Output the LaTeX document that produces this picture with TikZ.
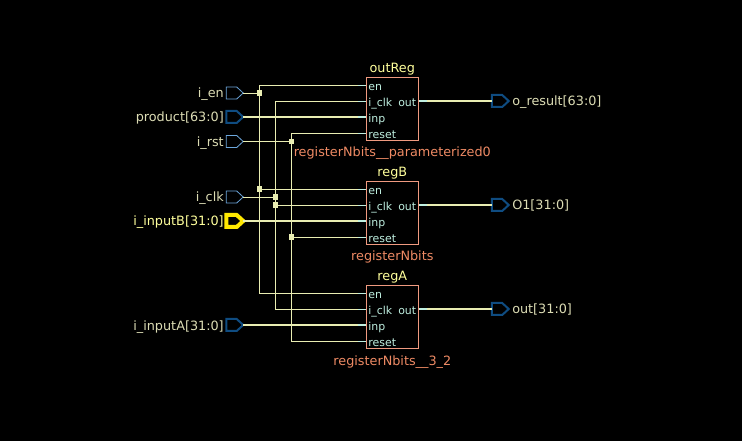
\documentclass[tikz,border=0pt]{standalone}
\usepackage{fontspec}
\usepackage{xcolor}
\usepackage{tikz}
\setmainfont{DejaVu Sans}
\usetikzlibrary{arrows.meta,positioning,calc,shapes.symbols}
\definecolor{wirecol}{HTML}{E9EDB2}
\definecolor{pincol}{HTML}{BFEFE0}
\definecolor{boxcol}{HTML}{F09A80}
\definecolor{portblue}{HTML}{6CA6DC}
\definecolor{busblue}{HTML}{0F4C81}
\definecolor{hilite}{HTML}{FFE800}
\definecolor{porttext}{HTML}{DCDCB4}
\definecolor{insttext}{HTML}{FFFF9C}
\definecolor{reftext}{HTML}{EE8A64}
\tikzset{
    every picture/.style={line cap=butt,line join=miter},
    port/.style={signal,signal to=east,signal pointer angle=85,draw=portblue,line width=0.6pt,
      minimum width=12.7pt,minimum height=9pt,inner sep=0pt,outer sep=0pt},
    busport/.style={port,draw=busblue,line width=1.5pt},
    hiport/.style={port,draw=hilite,line width=3pt},
    portlabel/.style={text=porttext,font=\fontsize{9.6}{11}\selectfont,inner sep=0pt,anchor=base east},
    outlabel/.style={text=porttext,font=\fontsize{9.6}{11}\selectfont,inner sep=0pt,anchor=base west},
    regbox/.style={draw=boxcol,line width=0.6pt,minimum width=39.4pt,minimum height=47.6pt,inner sep=0pt},
    pinlabel/.style={text=pincol,font=\fontsize{8.2}{10}\selectfont,inner sep=0pt,anchor=base west},
    outpin/.style={text=pincol,font=\fontsize{8.2}{10}\selectfont,inner sep=0pt,anchor=base east},
    instlabel/.style={text=insttext,font=\fontsize{9.6}{11}\selectfont,inner sep=0pt,anchor=base},
    reflabel/.style={text=reftext,font=\fontsize{9.6}{11}\selectfont,inner sep=0pt,anchor=base},
    wire/.style={draw=wirecol,line width=0.6pt},
    buswire/.style={draw=wirecol,line width=1.5pt},
    joint/.style={fill=wirecol,draw=none,minimum size=3.8pt,inner sep=0pt,outer sep=0pt}
}
\begin{document}
\begin{tikzpicture}[x=0.75pt,y=-0.75pt]
  \useasboundingbox[fill=black] (0,0) rectangle (742,441);
  % registers
  \foreach \r/\yc/\t/\rf/\yt/\yb in {outReg/109/outReg/registerNbits\_\_parameterized0/73/157,regB/213/regB/registerNbits/177/261,regA/317/regA/registerNbits\_\_3\_2/281/365}{
    \node[regbox] (\r) at (392.3,\yc){};
    \node[instlabel] (\r-name) at (392.3,\yt){\t};
    \node[reflabel] (\r-ref) at (392.3,\yb){\rf};
    \foreach \p/\dy in {en/-24,clk/-8,inp/8,rst/24}{\coordinate (\r-\p) at ($(\r.west)+(0,\dy)$);}
    \coordinate (\r-out) at ($(\r.east)+(0,-8)$);
    \node[pinlabel] (\r-lben) at ($(\r.west)+(2.5,-18.5)$){en};
    \node[pinlabel] (\r-lbclk) at ($(\r.west)+(2.5,-2.5)$){i\_clk};
    \node[pinlabel] (\r-lbinp) at ($(\r.west)+(2.5,13.5)$){inp};
    \node[pinlabel] (\r-lbrst) at ($(\r.west)+(2.5,29.5)$){reset};
    \node[outpin] (\r-lbout) at ($(\r.east)+(-2.5,-2.5)$){out};
  }
  % ports
  \node[port] (pen) at (231.5,93){};
  \node[busport] (pprod) at (231.5,117){};
  \node[port] (prst) at (231.5,141.5){};
  \node[port] (pclk) at (231.5,197){};
  \node[hiport] (pb) at (231.5,221){};
  \node[busport] (pa) at (231.5,325){};
  \node[busport] (pres) at (497,101){};
  \node[busport] (po1) at (497,205){};
  \node[busport] (pout) at (497,309){};
  \node[portlabel] (len) at (224,98){i\_en};
  \node[portlabel] (lprod) at (224,122){product[63:0]};
  \node[portlabel] (lrst) at (224,146.5){i\_rst};
  \node[portlabel] (lclk) at (224,202){i\_clk};
  \node[portlabel,text=insttext] (lb) at (224,226){i\_inputB[31:0]};
  \node[portlabel] (la) at (224,330){i\_inputA[31:0]};
  \node[outlabel] (lres) at (512,106){o\_result[63:0]};
  \node[outlabel] (lo1) at (512,210){O1[31:0]};
  \node[outlabel] (lout) at (512,314){out[31:0]};
  % nets
  \coordinate (en top) at (259.5,85);
  \coordinate (clk top) at (275.5,101);
  \coordinate (rst top) at (291.3,133);
  \draw[wire] (outReg-en)--(en top)--(en top|-regA-en)--(regA-en);
  \draw[wire] (outReg-clk)--(clk top)--(clk top|-regA-clk)--(regA-clk);
  \draw[wire] (outReg-rst)--(rst top)--(rst top|-regA-rst)--(regA-rst);
  \draw[wire] (pen.east)--(pen.east-|en top);
  \draw[wire] (prst.east)--(prst.east-|rst top);
  \draw[wire] (pclk.east)--(pclk.east-|clk top);
  \draw[wire] (en top|-regB-en)--(regB-en);
  \draw[wire] (clk top|-regB-clk)--(regB-clk);
  \draw[wire] (rst top|-regB-rst)--(regB-rst);
  \draw[buswire] (pprod.east)--(outReg-inp);
  \draw[buswire] (pb.east)--(regB-inp);
  \draw[buswire] (pa.east)--(regA-inp);
  \draw[buswire] (outReg-out)--(pres.west);
  \draw[buswire] (regB-out)--(po1.west);
  \draw[buswire] (regA-out)--(pout.west);
  % pin ends
  \foreach \r in {outReg,regB,regA}{
    \foreach \p in {en,clk,rst}{\draw[wire,pincol] (\r-\p)--++(-8,0);}
    \draw[buswire,pincol] (\r-inp)--++(-8,0);
    \draw[buswire,pincol] (\r-out)--++(8,0);
  }
  % junctions
  \node[joint] (j1) at (en top|-pen.east){};
  \node[joint] (j2) at (en top|-regB-en){};
  \node[joint] (j3) at (clk top|-pclk.east){};
  \node[joint] (j4) at (clk top|-regB-clk){};
  \node[joint] (j5) at (rst top|-prst.east){};
  \node[joint] (j6) at (rst top|-regB-rst){};
\end{tikzpicture}
\end{document}
